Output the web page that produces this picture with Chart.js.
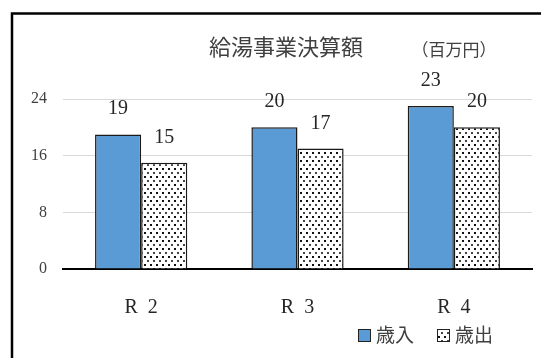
<!DOCTYPE html>
<html>
<head>
<meta charset="utf-8">
<script src="https://cdn.jsdelivr.net/npm/chart.js@4/dist/chart.umd.min.js"></script>
<style>
  html, body { margin: 0; padding: 0; background: #fff; }
  #wrap { position: relative; width: 541px; height: 358px; }
</style>
</head>
<body>
<div id="wrap"><canvas id="myChart" width="541" height="358"></canvas></div>
<script>
const years = ['R\u20022', 'R\u20023', 'R\u20024'];
const income = [19, 20, 23];
const expense = [15, 17, 20];
const seriesNames = ['歳入', '歳出'];
const yTicks = [0, 8, 16, 24];

const SERIF = '"Liberation Serif", "Noto Sans CJK JP", serif';

// dotted fill for the expense bars
const makeDots = () => {
  const tile = document.createElement('canvas');
  tile.width = 6;
  tile.height = 8;
  const t = tile.getContext('2d');
  t.fillStyle = '#fff';
  t.fillRect(0, 0, 6, 8);
  t.fillStyle = '#111';
  t.fillRect(0, 0, 2, 2);
  t.fillStyle = '#444';
  t.fillRect(3, 4, 2, 2);
  return document.getElementById('myChart').getContext('2d').createPattern(tile, 'repeat');
};
const dots = makeDots();

const frameAndText = {
  id: 'frameAndText',
  beforeDraw(chart) {
    const { ctx } = chart;
    ctx.save();
    ctx.strokeStyle = '#000';
    ctx.lineWidth = 2.5;
    ctx.beginPath();
    ctx.moveTo(12, 400);
    ctx.lineTo(12, 13.5);
    ctx.lineTo(560, 13.5);
    ctx.stroke();
    ctx.restore();
  },
  afterDatasetsDraw(chart) {
    const { ctx } = chart;
    ctx.save();
    // values above each bar
    ctx.fillStyle = '#262626';
    ctx.font = `20px ${SERIF}`;
    ctx.textAlign = 'center';
    ctx.textBaseline = 'alphabetic';
    chart.data.datasets.forEach((ds, i) => {
      chart.getDatasetMeta(i).data.forEach((bar, j) => {
        ctx.fillText(String(ds.data[j]), bar.x, bar.y - 20);
      });
    });

    // title and unit
    ctx.fillStyle = '#404040';
    ctx.textBaseline = 'middle';
    ctx.font = '22px "Noto Sans CJK JP", sans-serif';
    ctx.fillText('給湯事業決算額', 286, 47);
    ctx.font = '17px "Noto Sans CJK JP", sans-serif';
    ctx.fillText('（百万円）', 454, 50);

    // legend
    const items = [
      { x: 358, ds: chart.data.datasets[0] },
      { x: 437, ds: chart.data.datasets[1] },
    ];
    ctx.font = '19px "Noto Sans CJK JP", sans-serif';
    ctx.textAlign = 'left';
    items.forEach((it) => {
      ctx.fillStyle = it.ds.backgroundColor;
      ctx.fillRect(it.x, 329, 13, 13);
      ctx.strokeStyle = '#222';
      ctx.lineWidth = 1;
      ctx.strokeRect(it.x + 0.5, 329.5, 12, 12);
      ctx.fillStyle = '#404040';
      ctx.fillText(it.ds.label, it.x + 18, 335);
    });
    ctx.restore();
  }
};

const ctx = document.getElementById('myChart');
// eslint-disable-next-line no-new
new Chart(ctx, {
  type: 'bar',
  data: {
    labels: years,
    datasets: [
      {
        label: seriesNames[0],
        data: income,
        backgroundColor: '#5b9bd5',
        borderColor: '#1a1a1a',
        borderWidth: 1.5,
      },
      {
        label: seriesNames[1],
        data: expense,
        backgroundColor: dots,
        borderColor: '#1a1a1a',
        borderWidth: 1.5,
      }
    ]
  },
  options: {
    responsive: false,
    animation: false,
    events: [],
    layout: { padding: { top: 99, left: 15, right: 9, bottom: 19 } },
    datasets: {
      bar: { barPercentage: 1, categoryPercentage: 0.59 }
    },
    plugins: {
      legend: { display: false },
      title: { display: false },
      tooltip: { enabled: false }
    },
    scales: {
      x: {
        z: 1,
        grid: { display: false },
        border: { display: true, color: '#000', width: 2 },
        ticks: {
          padding: 19,
          maxRotation: 0,
          color: '#262626',
          font: { family: SERIF, size: 20 }
        }
      },
      y: {
        min: yTicks[0],
        max: yTicks[yTicks.length - 1],
        afterBuildTicks: (axis) => { axis.ticks = yTicks.map((v) => ({ value: v })); },
        border: { display: false },
        grid: { color: '#d9d9d9', lineWidth: 1, drawTicks: false },
        ticks: {
          padding: 16,
          color: '#404040',
          font: { family: SERIF, size: 16 }
        }
      }
    }
  },
  plugins: [frameAndText]
});
</script>
</body>
</html>
